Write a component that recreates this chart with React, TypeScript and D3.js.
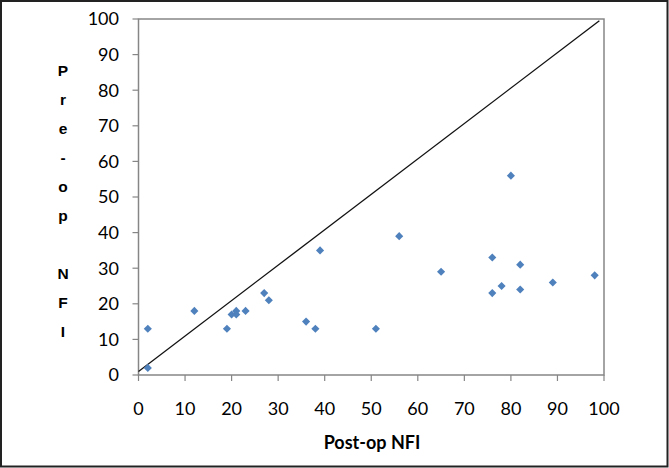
import * as d3 from 'd3'

// Post-op NFI (x) vs Pre-op NFI (y)
const postOp = [2, 2, 12, 19, 20, 21, 21, 23, 27, 28, 36, 38, 39, 51, 56, 65, 76, 76, 78, 80, 82, 82, 89, 98]
const preOp  = [13, 2, 18, 13, 17, 18, 17, 18, 23, 21, 15, 13, 35, 13, 39, 29, 33, 23, 25, 56, 31, 24, 26, 28]
const lineX = [0, 99]
const lineY = [1, 99.5]
const ticks = [0, 10, 20, 30, 40, 50, 60, 70, 80, 90, 100]
const yLabel = ['P', 'r', 'e', '-', 'o', 'p', '', 'N', 'F', 'I']

const W = 669
const H = 468
const PLOT = { left: 138.5, right: 604, top: 19, bottom: 375 }
const AXIS = '#868686'
const FONT = 'Lato, "Open Sans", sans-serif'

export default function App() {
  const x = d3.scaleLinear().domain([0, 100]).range([PLOT.left, PLOT.right])
  const y = d3.scaleLinear().domain([0, 100]).range([PLOT.bottom, PLOT.top])

  const diag = d3.line<number>().x(d => x(d)).y((_, i) => y(lineY[i]))(lineX) || ''
  const diamond = d3.symbol().type(d3.symbolDiamond2).size(42)() || ''

  return (
    <svg width={W} height={H} style={{ position: 'absolute', left: 0, top: 0, background: '#fff' }}>
      {/* outer frame */}
      <rect x={1} y={1} width={W - 2.5} height={H - 2.5} fill="none" stroke="#222" strokeWidth={2} />

      {/* plot border */}
      <rect x={PLOT.left} y={PLOT.top} width={PLOT.right - PLOT.left} height={PLOT.bottom - PLOT.top}
        fill="none" stroke={AXIS} strokeWidth={1.5} />

      {/* y ticks + labels */}
      {ticks.map(t => (
        <g key={'y' + t}>
          <line x1={PLOT.left - 6} x2={PLOT.left} y1={y(t)} y2={y(t)} stroke={AXIS} strokeWidth={1.2} />
          <text x={119} y={y(t)} dy="0.36em" textAnchor="end" fontSize={18} fontFamily={FONT} fill="#000">{t}</text>
        </g>
      ))}

      {/* x ticks + labels */}
      {ticks.map(t => (
        <g key={'x' + t}>
          <line x1={x(t)} x2={x(t)} y1={PLOT.bottom} y2={PLOT.bottom + 6} stroke={AXIS} strokeWidth={1.2} />
          <text x={x(t)} y={409} dy="0.36em" textAnchor="middle" fontSize={18} fontFamily={FONT} fill="#000">{t}</text>
        </g>
      ))}

      {/* diagonal line */}
      <path d={diag} fill="none" stroke="#111" strokeWidth={1.3} />

      {/* points */}
      {postOp.map((v, i) => (
        <path key={i} d={diamond} transform={`translate(${x(v)},${y(preOp[i])})`} fill="#4f81bd" />
      ))}

      {/* axis titles */}
      <text x={372} y={443} dy="0.36em" textAnchor="middle" fontSize={18} fontWeight="bold" fontFamily={FONT} fill="#000">Post-op NFI</text>
      {yLabel.map((c, i) => (
        <text key={i} x={63} y={70 + i * 29} dy="0.36em" textAnchor="middle" fontSize={15.5} fontWeight="bold"
          fontFamily='"Liberation Sans", Arial, sans-serif' fill="#000">{c}</text>
      ))}
    </svg>
  )
}
